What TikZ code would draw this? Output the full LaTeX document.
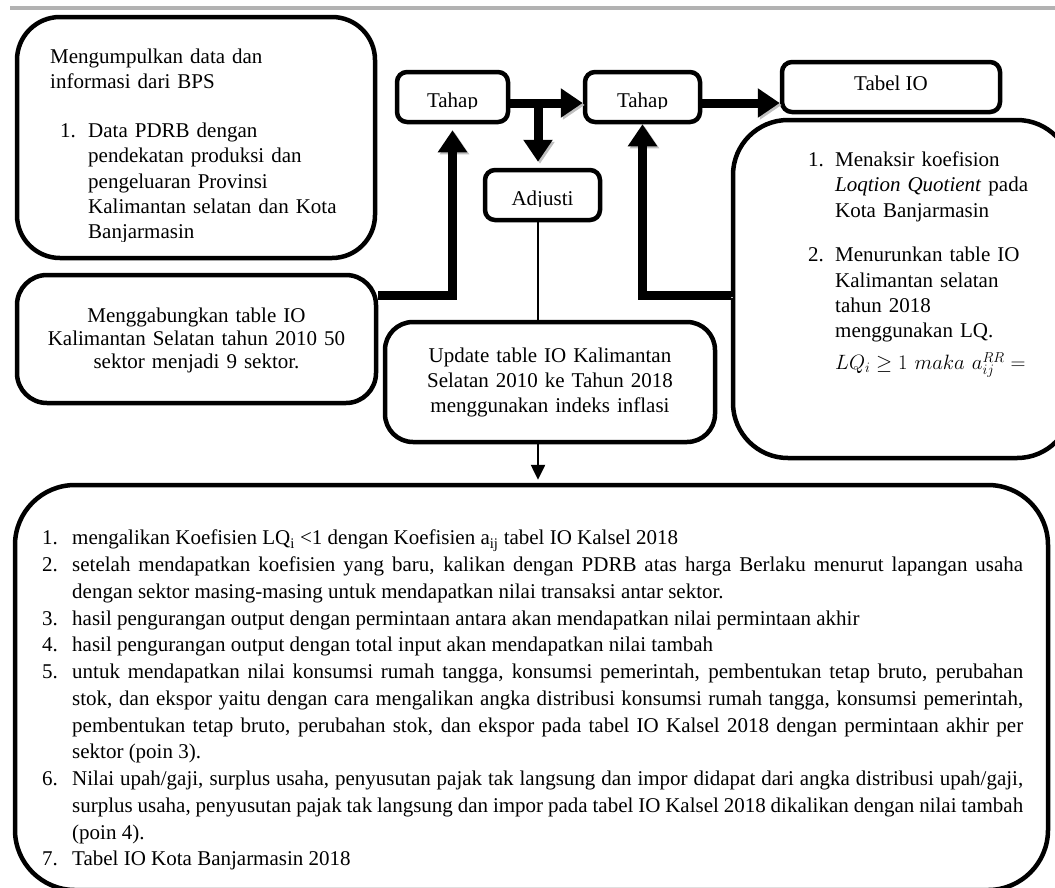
\documentclass[tikz,border=0pt]{standalone}
\usepackage{fontspec}
\setmainfont{Liberation Serif}
\usetikzlibrary{arrows.meta}

\newcommand{\topstrut}{\rule{0pt}{16pt}}
\newcommand{\numitem}[2]{\par\noindent\hangindent=#1\hangafter=1\makebox[#1][l]{#2}\ignorespaces}

\begin{document}
\begin{tikzpicture}[x=1pt,y=-1pt,
	box/.style={draw,line width=4.5pt,rounded corners=#1,inner sep=0pt},
	box/.default=10pt,
	txt/.style={inner sep=0pt,font=\fontsize{21}{25.3}\selectfont},
	fat/.style={line width=9pt,-{Triangle[length=22pt,width=28pt]},
		preaction={draw=black!25,transform canvas={shift={(2pt,-2pt)}}}},
	slim/.style={line width=2.5pt},
	slimarrow/.style={slim,-{Triangle[length=15pt,width=14pt]}}
	]

	\useasboundingbox (0,0) rectangle (1055,887);

	% Rule on top
	\draw[gray!60, line width=4pt] (10,8) -- (1055,8);

	% Boxes
	\node[box=43pt, minimum width=358pt, minimum height=241pt] (collect) at (196,137.5) {};
	\node[box=30pt, minimum width=359pt, minimum height=128pt] (merge) at (196.5,339) {};
	\node[box, minimum width=111pt, minimum height=50pt] (tahapA) at (452.5,97) {};
	\node[box, minimum width=115pt, minimum height=50pt] (tahapB) at (642.5,97) {};
	\node[box, minimum width=115pt, minimum height=50pt] (adjust) at (542.5,195) {};
	\node[box, minimum width=218pt, minimum height=50pt] (tabel) at (891,87) {};
	\node[box=28pt, minimum width=330pt, minimum height=120pt] (update) at (550,382) {};
	\node[box=55pt, minimum width=339pt, minimum height=338pt] (estimate) at (902.5,289) {};
	\node[box=60pt, minimum width=1033pt, minimum height=405pt] (final) at (531.5,687.5) {};

	% Texts
	\begin{scope}
		\clip (17,17) rectangle (375,241);
		\node[txt, anchor=north west, text width=320pt] (collecttext) at (50,47) {\topstrut Mengumpulkan data dan\newline informasi dari BPS\par\vspace{23.7pt}\leftskip=10pt
			\numitem{28pt}{1.}Data PDRB dengan\newline pendekatan produksi dan\newline pengeluaran Provinsi\newline Kalimantan selatan dan Kota\newline Banjarmasin\par};
	\end{scope}
	\node[txt, anchor=north, text width=340pt, align=center, font=\fontsize{21}{23}\selectfont] (mergetext) at (196.5,306) {\topstrut Menggabungkan table IO\\ Kalimantan Selatan tahun 2010 50\\ sektor menjadi 9 sektor.};
	\begin{scope}
		\clip (397,72) rectangle (508,108);
		\node[txt, anchor=base] (tahapAtext) at (452.5,107) {Tahap};
	\end{scope}
	\begin{scope}
		\clip (585,72) rectangle (700,108);
		\node[txt, anchor=base] (tahapBtext) at (642.5,107) {Tahap};
	\end{scope}
	\begin{scope}
		\clip (485,170) rectangle (600,206);
		\node[txt, anchor=base] (adjusttext) at (542.5,205) {Adjusti};
	\end{scope}
	\node[txt, anchor=base] (tabeltext) at (891,90) {Tabel IO};
	\node[txt, anchor=north, text width=320pt, align=center, font=\fontsize{21}{25}\selectfont] (updatetext) at (550,346) {\topstrut Update table IO Kalimantan\\ Selatan 2010 ke Tahun 2018\\ menggunakan indeks inflasi};
	\node[txt, anchor=north west, text width=245pt, font=\fontsize{21}{25.3}\selectfont] (estimatetext) at (808,141) {%
		\numitem{27pt}{1.}\topstrut Menaksir koefision\newline \textit{Loqtion Quotient} pada\newline Kota Banjarmasin\par\vspace{19.5pt}
		\numitem{27pt}{2.}Menurunkan table IO\newline Kalimantan selatan\newline tahun 2018\newline menggunakan LQ.\par\vspace{6.5pt}
		\noindent\hspace*{27pt}$LQ_i \geq 1\ maka\ a_{ij}^{RR} =$\par};
	\node[txt, anchor=north west, text width=981pt, align=justify, font=\fontsize{21}{26.75}\selectfont] (finaltext) at (42,518) {%
		\numitem{30pt}{1.}\topstrut mengalikan Koefisien LQ\textsubscript{i} <1 dengan Koefisien a\textsubscript{ij} tabel IO Kalsel 2018
		\numitem{30pt}{2.}setelah mendapatkan koefisien yang baru, kalikan dengan PDRB atas harga Berlaku menurut lapangan usaha\linebreak dengan sektor masing-masing untuk mendapatkan nilai transaksi antar sektor.
		\numitem{30pt}{3.}hasil pengurangan output dengan permintaan antara akan mendapatkan nilai permintaan akhir
		\numitem{30pt}{4.}hasil pengurangan output dengan total input akan mendapatkan nilai tambah
		\numitem{30pt}{5.}untuk mendapatkan nilai konsumsi rumah tangga, konsumsi pemerintah, pembentukan tetap bruto, perubahan\linebreak stok, dan ekspor yaitu dengan cara mengalikan angka distribusi konsumsi rumah tangga, konsumsi pemerintah,\linebreak pembentukan tetap bruto, perubahan stok, dan ekspor pada tabel IO Kalsel 2018 dengan permintaan akhir per\linebreak sektor (poin 3).
		\numitem{30pt}{6.}Nilai upah/gaji, surplus usaha, penyusutan pajak tak langsung dan impor didapat dari angka distribusi upah/gaji,\linebreak surplus usaha, penyusutan pajak tak langsung dan impor pada tabel IO Kalsel 2018 dikalikan dengan nilai tambah\linebreak (poin 4).
		\numitem{30pt}{7.}Tabel IO Kota Banjarmasin 2018\par};

	% Connectors
	\coordinate (aout) at ([yshift=-6pt]tahapA.east);
	\coordinate (bout) at ([yshift=-6pt]tahapB.east);
	\coordinate (split) at (538,103);
	\coordinate (mergeout) at (merge.east |- 0,295);
	\coordinate (estout) at (estimate.west |- 0,295);

	\draw[fat] (aout) -- (aout -| tahapB.west);
	\draw[fat, shorten >=6pt] (split) -- (split |- adjust.north);
	\draw[fat] (bout) -- (bout -| tabel.west);
	\draw[fat, shorten >=6pt] (mergeout) -| (tahapA.south);
	\draw[fat] (estout) -| (tahapB.south);
	\draw[slim] (split |- adjust.south) -- (split |- update.north);
	\draw[slimarrow, shorten >=3pt] (split |- update.south) -- (split |- final.north);

\end{tikzpicture}
\end{document}
